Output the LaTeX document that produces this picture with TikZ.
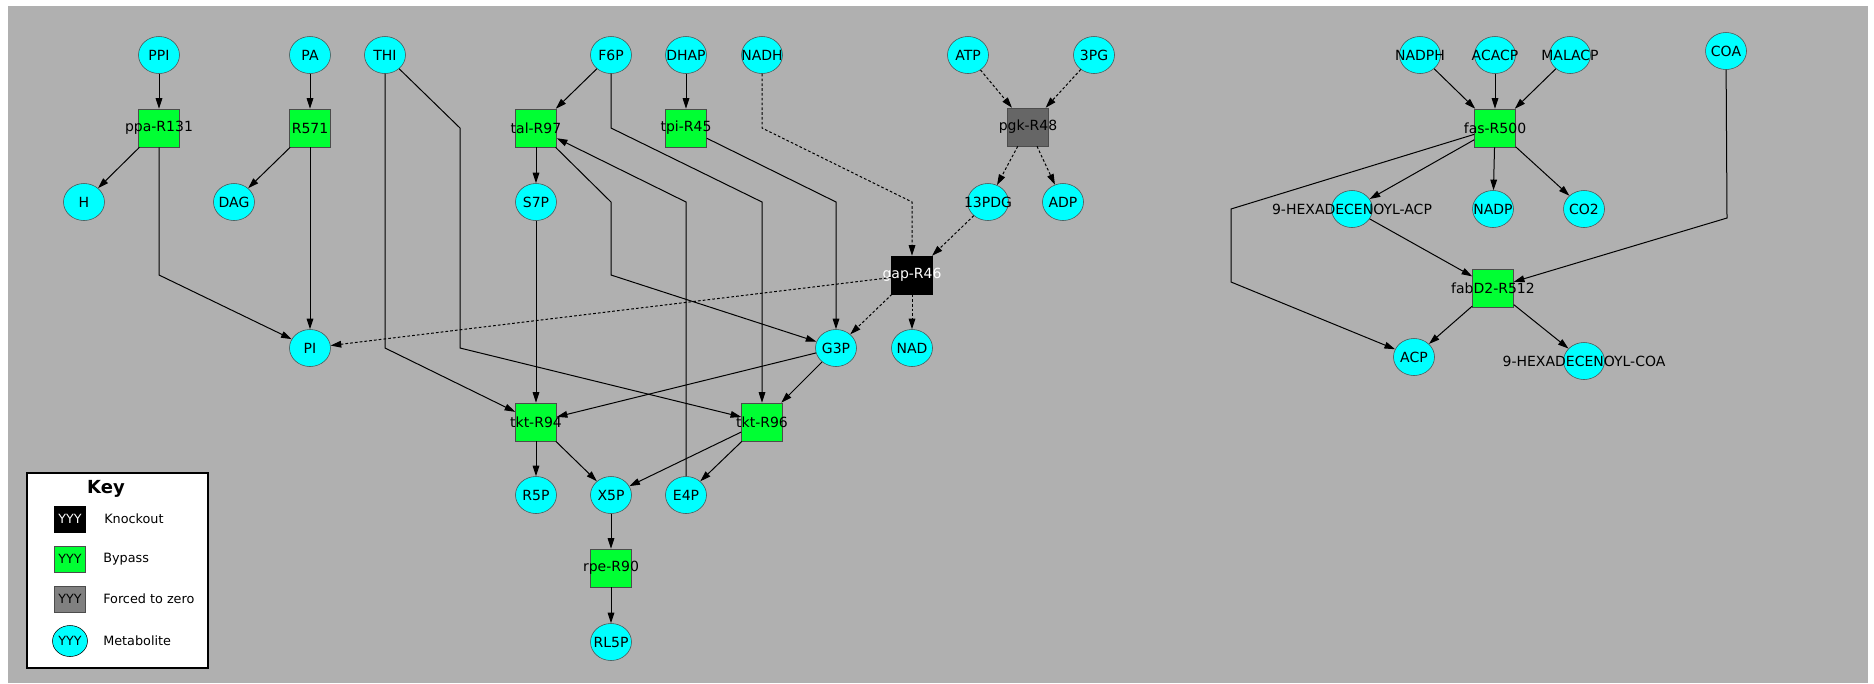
\documentclass[tikz,border=0pt]{standalone}
\usepackage{fontspec}
\setmainfont{DejaVu Sans}
\usetikzlibrary{shapes.geometric,arrows.meta}
\definecolor{bggray}{RGB}{176,176,176}
\definecolor{bypass}{RGB}{0,255,51}
\definecolor{zerogray}{RGB}{102,102,102}
\definecolor{keygray}{RGB}{128,128,128}
\definecolor{metcyan}{RGB}{0,255,255}
\begin{document}
\begin{tikzpicture}[x=0.75pt,y=-0.75pt,
  every node/.style={font=\fontsize{10.5}{12.6}\selectfont},
  met/.style={ellipse,draw=black!70,fill=metcyan,minimum width=30.75pt,minimum height=27.75pt,inner sep=0pt},
  rxn/.style={rectangle,draw=black!70,fill=bypass,minimum width=30.75pt,minimum height=28.5pt,inner sep=0pt},
  ko/.style={rxn,draw=black,fill=black,text=white},
  zero/.style={rxn,fill=zerogray},
  flow/.style={line width=0.75pt,-{Triangle[length=8pt,width=5pt]}},
  halted/.style={flow,dash pattern=on 2pt off 1.6pt},
  keytxt/.style={anchor=west,inner xsep=0pt,font=\fontsize{9.6}{11.5}\selectfont}]
  \useasboundingbox (0,0) rectangle (1874,683);
  \fill[white] (0,0) rectangle (1874,683);
  \fill[bggray] (8,6) rectangle (1868,683);
  % metabolites
  \foreach \n/\x/\y/\t in {PPI/159/55/PPI, PA/310/55/PA, THI/385/55/THI, F6P/611/55/F6P,
      DHAP/686/55/DHAP, NADH/762/55/NADH, ATP/968/55/ATP, PG3/1094/55/3PG,
      NADPH/1420/55/NADPH, ACACP/1495/55/ACACP, MALACP/1570/55/MALACP, COA/1726/51/COA,
      H/84/202/H, DAG/234/202/DAG, S7P/536/202/S7P, PDG13/988/202/13PDG, ADP/1063/202/ADP,
      HACP/1352/209/9-HEXADECENOYL-ACP, NADP/1493/209/NADP, CO2/1584/209/CO2,
      PI/310/348/PI, G3P/836/348/G3P, NAD/912/348/NAD, ACP/1414/357/ACP,
      HCOA/1584/361/9-HEXADECENOYL-COA, R5P/536/495/R5P, X5P/611/495/X5P,
      E4P/686/495/E4P, RL5P/611/642/RL5P}
    \node[met] (\n) at (\x,\y) {\makebox[0pt]{\t}};
  % reactions
  \foreach \n/\x/\y/\t in {ppa131/159/128/ppa-R131, R571/310/128/R571, tal97/536/128/tal-R97,
      tpi45/686/128/tpi-R45, fas500/1495/128/fas-R500, fabD2/1493/288/fabD2-R512,
      tkt94/536/422/tkt-R94, tkt96/762/422/tkt-R96, rpe90/611/568/rpe-R90}
    \node[rxn] (\n) at (\x,\y) {\makebox[0pt]{\t}};
  \node[zero] (pgk48) at (1028,127) {\makebox[0pt]{pgk-R48}};
  \node[ko] (gap46) at (912,275) {\makebox[0pt]{gap-R46}};
  % straight fluxes
  \foreach \a/\b in {PPI/ppa131, ppa131/H, PA/R571, R571/DAG, R571/PI, F6P/tal97, DHAP/tpi45,
      tal97/S7P, S7P/tkt94, G3P/tkt94, G3P/tkt96, tkt94/R5P, tkt94/X5P, tkt96/X5P, tkt96/E4P,
      X5P/rpe90, rpe90/RL5P, NADPH/fas500, ACACP/fas500, MALACP/fas500, fas500/HACP,
      fas500/NADP, fas500/CO2, HACP/fabD2, fabD2/ACP, fabD2/HCOA}
    \draw[flow] (\a) -- (\b);
  \foreach \a/\b in {ATP/pgk48, PG3/pgk48, pgk48/PDG13, pgk48/ADP, PDG13/gap46,
      gap46/PI, gap46/G3P, gap46/NAD}
    \draw[halted] (\a) -- (\b);
  % routed fluxes
  \draw[flow] (ppa131) -- (159,275) -- (PI);
  \draw[flow] (THI) -- (385,348) -- (tkt94);
  \draw[flow] (THI) -- (460,128) -- (460,348) -- (tkt96);
  \draw[flow] (tal97) -- (611,202) -- (611,275) -- (G3P);
  \draw[flow] (F6P) -- (611,128) -- (762,202) -- (tkt96);
  \draw[flow] (E4P) -- (686,202) -- (tal97);
  \draw[flow] (tpi45) -- (836,202) -- (G3P);
  \draw[halted] (NADH) -- (762,128) -- (912,202) -- (gap46);
  \draw[flow] (fas500) -- (1231,209) -- (1231,282) -- (ACP);
  \draw[flow] (COA) -- (1727,218) -- (fabD2);
  % key
  \draw[line width=1pt,fill=white] (27,473) rectangle (208,668);
  \node[font=\bfseries\fontsize{13.5}{16}\selectfont] (keyhead) at (106,489) {Key};
  \node[ko,minimum width=23.25pt,minimum height=19.5pt,font=\fontsize{9.5}{11}\selectfont] (keyko) at (70,519) {YYY};
  \node[rxn,minimum width=23.25pt,minimum height=19.5pt,font=\fontsize{9.5}{11}\selectfont] (keyby) at (70,559) {YYY};
  \node[rxn,fill=keygray,minimum width=23.25pt,minimum height=19.5pt,font=\fontsize{9.5}{11}\selectfont] (keyzr) at (70,599) {YYY};
  \node[met,draw=black,minimum width=26.25pt,minimum height=23.25pt,font=\fontsize{9.5}{11}\selectfont] (keymet) at (70,641) {YYY};
  \node[keytxt] (keykotxt) at (104,519) {Knockout};
  \node[keytxt] (keybytxt) at (103,559) {Bypass};
  \node[keytxt] (keyzrtxt) at (103,599) {Forced to zero};
  \node[keytxt] (keymettxt) at (103,641) {Metabolite};
\end{tikzpicture}
\end{document}
